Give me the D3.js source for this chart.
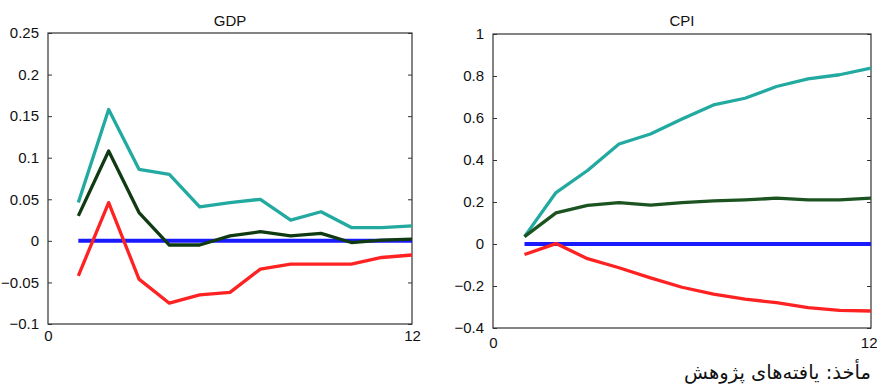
<!DOCTYPE html>
<html><head><meta charset="utf-8">
<script src="https://cdn.jsdelivr.net/npm/d3@7"></script>
<style>
html,body{margin:0;padding:0;background:#fff;}
svg{display:block;font-family:"Liberation Sans",Arial,sans-serif;}
</style></head>
<body>
<svg id="chart" width="877" height="390"></svg>
<script>
// Horizons 1..12
const periods = [1,2,3,4,5,6,7,8,9,10,11,12];

// GDP panel
const gdpUpper  = [0.046,0.158,0.086,0.080,0.041,0.046,0.050,0.025,0.035,0.016,0.016,0.018];
const gdpMedian = [0.030,0.108,0.034,-0.005,-0.005,0.006,0.011,0.006,0.009,-0.002,0.001,0.002];
const gdpLower  = [-0.042,0.046,-0.046,-0.075,-0.065,-0.062,-0.034,-0.028,-0.028,-0.028,-0.020,-0.017];
const gdpZero   = [0,0,0,0,0,0,0,0,0,0,0,0];
const gdpTicks  = [-0.1,-0.05,0,0.05,0.1,0.15,0.2,0.25];

// CPI panel
const cpiUpper  = [0.035,0.245,0.350,0.476,0.524,0.595,0.662,0.694,0.750,0.786,0.806,0.838];
const cpiMedian = [0.035,0.148,0.184,0.197,0.185,0.197,0.205,0.210,0.218,0.210,0.210,0.218];
const cpiLower  = [-0.050,0.002,-0.070,-0.113,-0.161,-0.206,-0.239,-0.263,-0.279,-0.303,-0.316,-0.319];
const cpiZero   = [0,0,0,0,0,0,0,0,0,0,0,0];
const cpiTicks  = [-0.4,-0.2,0,0.2,0.4,0.6,0.8,1];

const xTicks = [0,12];
const sourceNote = "مأخذ: یافته‌های پژوهش";

const svg = d3.select("#chart");
const fmt = d => d === 0 ? "0" : d3.format("")(d).replace("-", "\u2212");

function panel(cfg){
  const x = d3.scaleLinear().domain([0,12]).range([cfg.x0, cfg.x1]);
  const y = d3.scaleLinear().domain(cfg.domain).range([cfg.y1, cfg.y0]);
  const g = svg.append("g");

  // frame
  g.append("rect").attr("x", cfg.x0).attr("y", cfg.y0)
    .attr("width", cfg.x1 - cfg.x0).attr("height", cfg.y1 - cfg.y0)
    .attr("fill", "none").attr("stroke", "#333").attr("stroke-width", 1.2);

  // left axis, ticks inward
  const left = g.append("g").attr("transform", `translate(${cfg.x0},0)`)
    .call(d3.axisLeft(y).tickValues(cfg.ticks).tickSize(-4).tickPadding(9).tickFormat(fmt));
  left.select(".domain").remove();
  left.selectAll("line").attr("stroke", "#333");
  left.selectAll("text").attr("font-size", 15).attr("fill", "#111")
    .attr("font-family", "Liberation Sans, Arial, sans-serif");

  // right axis ticks (no labels), inward
  const right = g.append("g").attr("transform", `translate(${cfg.x1},0)`)
    .call(d3.axisRight(y).tickValues(cfg.ticks).tickSize(-4).tickFormat(""));
  right.select(".domain").remove();
  right.selectAll("line").attr("stroke", "#333");

  // bottom axis labels
  const bottom = g.append("g").attr("transform", `translate(0,${cfg.y1})`)
    .call(d3.axisBottom(x).tickValues(xTicks).tickSize(0).tickPadding(cfg.xpad).tickFormat(d3.format("d")));
  bottom.select(".domain").remove();
  bottom.selectAll("text").attr("font-size", 15).attr("fill", "#111")
    .attr("font-family", "Liberation Sans, Arial, sans-serif");
  if (cfg.lastEnd) {
    bottom.selectAll("text").filter(d => d === 12).attr("text-anchor", "end").attr("dx", 877 - cfg.x1);
  }

  // title
  g.append("text").attr("x", (cfg.x0 + cfg.x1)/2).attr("y", 26)
    .attr("text-anchor", "middle").attr("font-size", 15).attr("fill", "#111")
    .text(cfg.title);

  const line = d3.line().x((d,i) => x(periods[i])).y(d => y(d));
  const series = [
    {v: cfg.zero,   c: "#1a1aff", w: 4},
    {v: cfg.lower,  c: "#ff2222", w: 3.3},
    {v: cfg.upper,  c: "#22aaa0", w: 3.3},
    {v: cfg.median, c: cfg.medColor, w: 3.3}
  ];
  g.append("defs").append("clipPath").attr("id", "clip" + cfg.title)
    .append("rect").attr("x", cfg.x0).attr("y", cfg.y0)
    .attr("width", cfg.x1 - cfg.x0).attr("height", cfg.y1 - cfg.y0);
  g.append("g").attr("clip-path", `url(#clip${cfg.title})`)
    .selectAll("path").data(series).join("path")
    .attr("d", s => line(s.v)).attr("fill", "none")
    .attr("stroke", s => s.c).attr("stroke-width", s => s.w)
    .attr("stroke-linejoin", "round");
}

panel({title:"GDP", x0:48, x1:412, y0:33, y1:324, domain:[-0.1,0.25], ticks:gdpTicks,
  upper:gdpUpper, median:gdpMedian, lower:gdpLower, zero:gdpZero, medColor:"#0f3a12", xpad:6});
panel({title:"CPI", x0:493, x1:871, y0:34, y1:328, domain:[-0.4,1], ticks:cpiTicks,
  upper:cpiUpper, median:cpiMedian, lower:cpiLower, zero:cpiZero, medColor:"#1b5420", xpad:9, lastEnd:true});

svg.append("text").attr("x", 871).attr("y", 379).attr("text-anchor", "end")
  .attr("font-family", "DejaVu Sans, Noto Sans, sans-serif")
  .attr("font-size", 19.5).attr("fill", "#111")
  .text(sourceNote);
</script>
</body></html>
